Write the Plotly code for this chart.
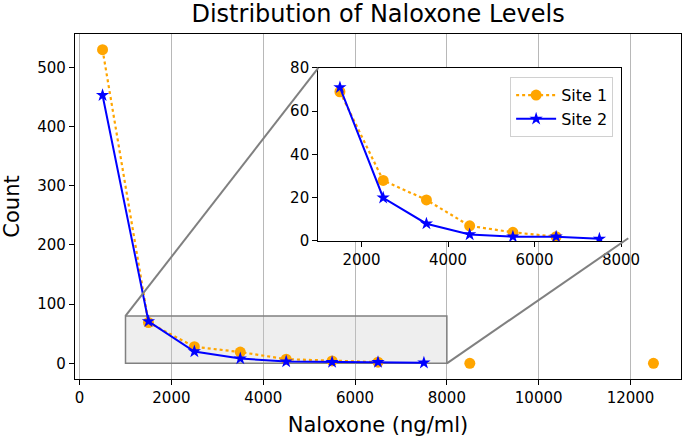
import plotly.graph_objects as go

# Data
x_vals = [500, 1500, 2500, 3500, 4500, 5500, 6500, 7500, 8500, 9500, 10500, 11500, 12500]
site1 = [530, 69, 28, 19, 7, 4, 2, None, 0, None, None, None, 0]
site2 = [453, 71, 20, 8, 3, 2, 2, 1, None, None, None, None, None]

# inset shows the 1500-7500 bins only
inset_slice = slice(1, 8)

main_xticks = [0, 2000, 4000, 6000, 8000, 10000, 12000]
main_xticklabels = ["0", "2000", "4000", "6000", "8000", "10000", "12000"]
main_yticks = [0, 100, 200, 300, 400, 500]
inset_xticks = [2000, 4000, 6000, 8000]
inset_yticks = [0, 20, 40, 60, 80]

main_xrange = [-100, 13100]
main_yrange = [-26.5, 556.5]
inset_xrange = [1000, 8000]
inset_yrange = [0, 80]
inset_xdom = [0.4015, 0.901]
inset_ydom = [0.400, 0.9016]

FONT = "DejaVu Sans"
ORANGE = "#FFA500"
BLUE = "#0000FF"

fig = go.Figure()

def add_series(xs, s1, s2, xa, ya, show):
    fig.add_trace(go.Scatter(x=xs, y=s1, name="Site 1", mode="lines+markers",
                             line=dict(color=ORANGE, dash="dot", width=2.2),
                             marker=dict(symbol="circle", size=11, color=ORANGE),
                             connectgaps=False, xaxis=xa, yaxis=ya, showlegend=show))
    fig.add_trace(go.Scatter(x=xs, y=s2, name="Site 2", mode="lines+markers",
                             line=dict(color=BLUE, width=2),
                             marker=dict(symbol="star", size=10, color=BLUE),
                             connectgaps=False, xaxis=xa, yaxis=ya, showlegend=show))

add_series(x_vals, site1, site2, "x", "y", False)
add_series(x_vals[inset_slice], site1[inset_slice], site2[inset_slice], "x2", "y2", True)

tickfont = dict(family=FONT, size=15, color="#000000")
axis_common = dict(showline=True, linecolor="#000000", linewidth=1.2, mirror=True,
                   ticks="outside", ticklen=5, tickcolor="#000000", tickfont=tickfont,
                   zeroline=False, automargin=False)

fig.update_layout(
    width=685, height=440,
    margin=dict(l=75, r=4, t=34, b=61),
    paper_bgcolor="white", plot_bgcolor="white",
    title=dict(text="Distribution of Naloxone Levels", x=0.552, xanchor="center",
               y=0.968, yanchor="middle", yref="container",
               font=dict(family=FONT, size=24, color="#000000")),
    xaxis=dict(range=main_xrange, domain=[0, 1], showgrid=True, gridcolor="#b8b8b8", gridwidth=1,
               tickvals=main_xticks, ticktext=main_xticklabels,
               title=dict(text="Naloxone (ng/ml)", font=dict(family=FONT, size=21, color="#000000"), standoff=11),
               **axis_common),
    yaxis=dict(range=main_yrange, domain=[0, 1], showgrid=False,
               tickvals=main_yticks,
               title=dict(text="Count", font=dict(family=FONT, size=21, color="#000000"), standoff=12),
               **axis_common),
    xaxis2=dict(range=inset_xrange, domain=inset_xdom, anchor="y2", showgrid=False,
                tickvals=inset_xticks, **axis_common),
    yaxis2=dict(range=inset_yrange, domain=inset_ydom, anchor="x2", showgrid=False,
                tickvals=inset_yticks, **axis_common),
    legend=dict(x=0.888, y=0.875, xanchor="right", yanchor="top",
                bgcolor="rgba(255,255,255,0.9)", bordercolor="#d0d0d0", borderwidth=1,
                font=dict(family=FONT, size=16, color="#000000"), tracegroupgap=0,
                itemwidth=40),
    showlegend=True,
)

# zoom rectangle in main axes
fig.add_shape(type="rect", xref="x", yref="y", x0=inset_xrange[0], x1=inset_xrange[1],
              y0=inset_yrange[0], y1=inset_yrange[1],
              fillcolor="rgba(200,200,200,0.3)", line=dict(color="#808080", width=1.5),
              layer="between")

# connector lines (convert inset corners to main data coords)
def px_to_x(f):
    return main_xrange[0] + f * (main_xrange[1] - main_xrange[0])

def py_to_y(f):
    return main_yrange[0] + f * (main_yrange[1] - main_yrange[0])

fig.add_shape(type="line", xref="x", yref="y",
              x0=inset_xrange[0], y0=inset_yrange[1],
              x1=px_to_x(inset_xdom[0]), y1=py_to_y(inset_ydom[1]),
              line=dict(color="#808080", width=2), layer="above")
fig.add_shape(type="line", xref="x", yref="y",
              x0=inset_xrange[1], y0=inset_yrange[0],
              x1=px_to_x(inset_xdom[1] + 0.012), y1=py_to_y(inset_ydom[0] + 0.008),
              line=dict(color="#808080", width=2), layer="above")

fig.write_html("out.html", config={"displayModeBar": False},
               post_script="document.body.style.margin='0px';document.body.style.overflow='hidden';")
